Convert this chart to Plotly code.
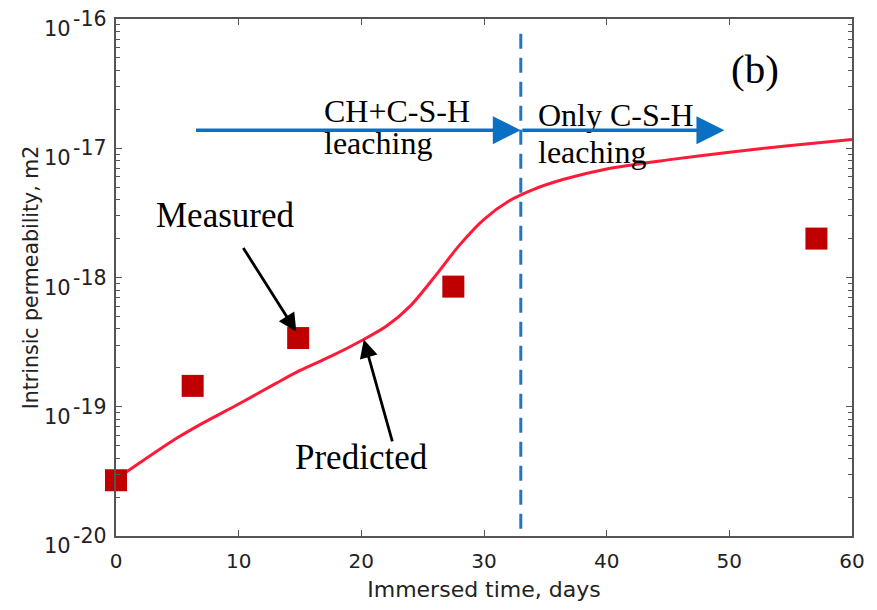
import math
import plotly.graph_objects as go

# Predicted curve (days, permeability m2)
pred_days = [0, 2, 5, 7, 10, 13, 15, 17.5, 20, 22, 24, 26, 28, 30, 32, 34,
             36.5, 40, 45, 50, 55, 60]
pred_k = [2.75e-20, 3.72e-20, 5.75e-20, 7.41e-20, 1.05e-19, 1.51e-19, 1.91e-19,
          2.45e-19, 3.24e-19, 4.17e-19, 6.03e-19, 1.02e-18, 1.78e-18, 2.82e-18,
          3.89e-18, 4.79e-18, 5.75e-18, 6.92e-18, 8.13e-18, 9.33e-18, 1.05e-17,
          1.17e-17]

# Measured points
meas_days = [0, 6.25, 14.85, 27.5, 57.1]
meas_k = [2.7e-20, 1.45e-19, 3.4e-19, 8.5e-19, 2.0e-18]

# Transition day
transition_day = [33.0]

x_ticks = [0, 10, 20, 30, 40, 50, 60]
y_tickvals = [1e-20, 1e-19, 1e-18, 1e-17, 1e-16]
y_tick_base = "10"
y_tick_exponents = ["-20", "-19", "-18", "-17", "-16"]

fig = go.Figure()

fig.add_trace(go.Scatter(
    x=[transition_day[0], transition_day[0]], y=[7.7e-17, 1.05e-20],
    mode="lines", line=dict(color="#1F77C4", width=3, dash="15px,9px"),
    showlegend=False, hoverinfo="skip"))

fig.add_trace(go.Scatter(
    x=pred_days, y=pred_k, mode="lines",
    line=dict(color="#FF1A3A", width=3, shape="spline", smoothing=0.8),
    showlegend=False))

fig.add_trace(go.Scatter(
    x=meas_days, y=meas_k, mode="markers",
    marker=dict(symbol="square", size=22, color="#C00000",
                line=dict(width=0)),
    showlegend=False, cliponaxis=False))

serif = "Liberation Serif, Times New Roman, serif"
sans = "DejaVu Sans, Verdana, sans-serif"
ann = []

def txt(x, y, t, size=32, xanchor="left"):
    ann.append(dict(x=x, y=y, xref="x", yref="y", text=t, showarrow=False,
                    xanchor=xanchor, yanchor="middle",
                    font=dict(family=serif, size=size, color="black")))

txt(52.1, -16.385, "(b)", size=41, xanchor="center")
txt(16.76, -16.708, "CH+C-S-H")
txt(16.76, -16.96, "leaching")
txt(34.2, -16.74, "Only C-S-H")
txt(34.2, -17.03, "leaching")
txt(3.12, -17.52, "Measured", size=35)
txt(14.4, -19.39, "Predicted", size=35)

def arrow(x0, y0, x1, y1, color, width, size):
    ann.append(dict(x=x1, y=y1, ax=x0, ay=y0, xref="x", yref="y",
                    axref="x", ayref="y", text="", showarrow=True,
                    arrowhead=2, arrowsize=size, arrowwidth=width,
                    arrowcolor=color, standoff=0, startstandoff=0))

arrow(6.4, -16.86, 33.0, -16.86, "#0A70C4", 3.5, 1.6)
arrow(33.0, -16.86, 49.6, -16.86, "#0A70C4", 3.5, 1.6)
arrow(10.3, -17.76, 14.7, -18.42, "black", 2.8, 1.3)
arrow(22.56, -19.28, 20.2, -18.48, "black", 2.8, 1.3)

# y tick labels: 10 with a large exponent
for v, e in zip(y_tickvals, y_tick_exponents):
    lv = math.log10(v)
    ann.append(dict(x=0, y=lv, xref="paper", yref="y", text=y_tick_base,
                    showarrow=False, xanchor="right", yanchor="middle",
                    xshift=-44, yshift=-10, borderpad=0,
                    font=dict(family=sans, size=21, color="#222")))
    ann.append(dict(x=0, y=lv, xref="paper", yref="y", text=e,
                    showarrow=False, xanchor="left", yanchor="middle",
                    xshift=-44, yshift=0, borderpad=0,
                    font=dict(family=sans, size=20.5, color="#222")))

fig.update_layout(
    width=877, height=610,
    margin=dict(l=116, r=22, t=19, b=72),
    paper_bgcolor="white", plot_bgcolor="white",
    annotations=ann,
    font=dict(family=sans, size=20, color="#222"),
)

fig.update_xaxes(
    range=[0, 60], tickvals=x_ticks, ticks="inside", ticklen=6,
    tickcolor="#555", showline=True, linecolor="#555", linewidth=1.5,
    mirror="ticks", showgrid=False, zeroline=False, ticklabelstandoff=6,
    title=dict(text="Immersed time, days", standoff=10,
               font=dict(size=22)),
    tickfont=dict(size=20))

fig.update_yaxes(
    type="log", range=[-20, -16], tickvals=y_tickvals, showticklabels=False,
    ticks="inside", ticklen=6, tickcolor="#555", showline=True,
    linecolor="#555", linewidth=1.5, mirror="allticks", showgrid=False,
    minor=dict(ticks="inside", ticklen=4, tickcolor="#555", showgrid=False,
               dtick="D1"),
    title=dict(text="Intrinsic permeability, m2", standoff=70,
               font=dict(size=20.5)))

fig.write_html("out.html")
